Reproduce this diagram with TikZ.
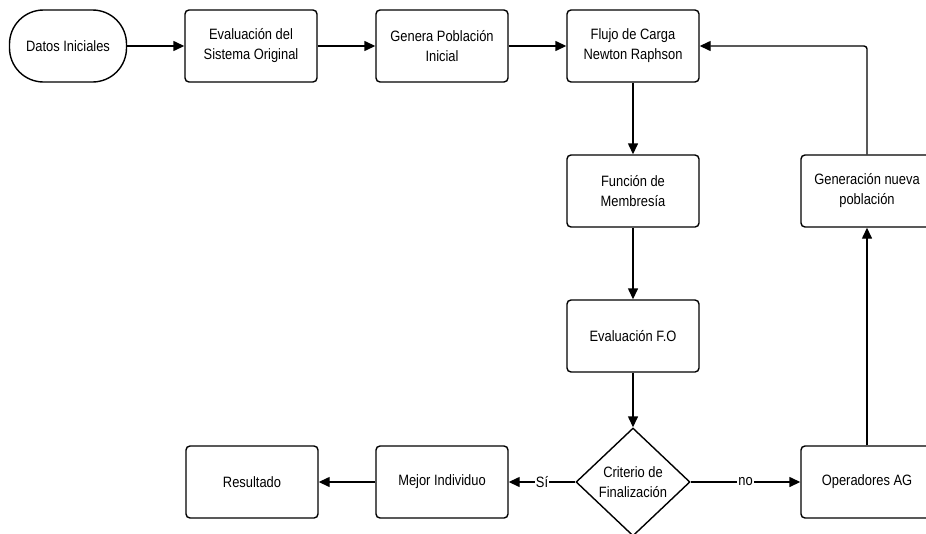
\documentclass[tikz,border=0pt]{standalone}
\usepackage{fontspec}
\setmainfont{Liberation Sans}[FakeStretch=0.86]
\usetikzlibrary{arrows.meta,shapes.geometric}

\begin{document}
\begin{tikzpicture}[x=1pt,y=-1pt,
  every node/.style={font=\fontsize{15}{20}\selectfont, align=center, text=black},
  box/.style={draw, line width=1.4pt, rounded corners=4pt,
    minimum width=132pt, minimum height=72pt, inner sep=0pt},
  terminal/.style={box, minimum width=117pt, rounded corners=34pt},
  decision/.style={draw, line width=1.4pt, diamond, aspect=1.055,
    minimum width=114pt, minimum height=108pt, inner sep=0pt},
  flow/.style={line width=1.4pt, -{Triangle[length=11pt,width=10pt]}},
  tag/.style={midway, fill=white, inner sep=1pt}]
  \useasboundingbox (0,0) rectangle (926,533);
  \clip (0,0) rectangle (926,533);

  % first row
  \node[terminal] (datos) at (68,46) {Datos Iniciales};
  \node[box] (evalsis) at (251,46) {Evaluación del\\Sistema Original};
  \node[box] (genpob) at (442,46) {Genera Población\\Inicial};
  \node[box] (flujo) at (633,46) {Flujo de Carga\\Newton Raphson};

  % central column
  \node[box] (memb) at (633,191) {Función de\\Membresía};
  \node[box] (evalfo) at (633,336) {Evaluación F.O};
  \node[decision] (crit) at (633,482) {Criterio de\\Finalización};

  % bottom row and loop
  \node[box] (mejor) at (442,482) {Mejor Individuo};
  \node[box] (res) at (252,482) {Resultado};
  \node[box] (oper) at (867,482) {Operadores AG};
  \node[box] (nueva) at (867,191) {Generación nueva\\población};

  % connectors
  \draw[flow] (datos) -- (evalsis);
  \draw[flow] (evalsis) -- (genpob);
  \draw[flow] (genpob) -- (flujo);
  \draw[flow] (flujo) -- (memb);
  \draw[flow] (memb) -- (evalfo);
  \draw[flow] (evalfo) -- (crit);
  \draw[flow] (crit) -- node[tag] {Sí} (mejor);
  \draw[flow] (mejor) -- (res);
  \draw[flow] (crit) -- node[tag] {no} (oper);
  \draw[flow] (oper) -- (nueva);
  \draw[flow, rounded corners=3pt] (nueva.north) |- (flujo.east);
\end{tikzpicture}
\end{document}
